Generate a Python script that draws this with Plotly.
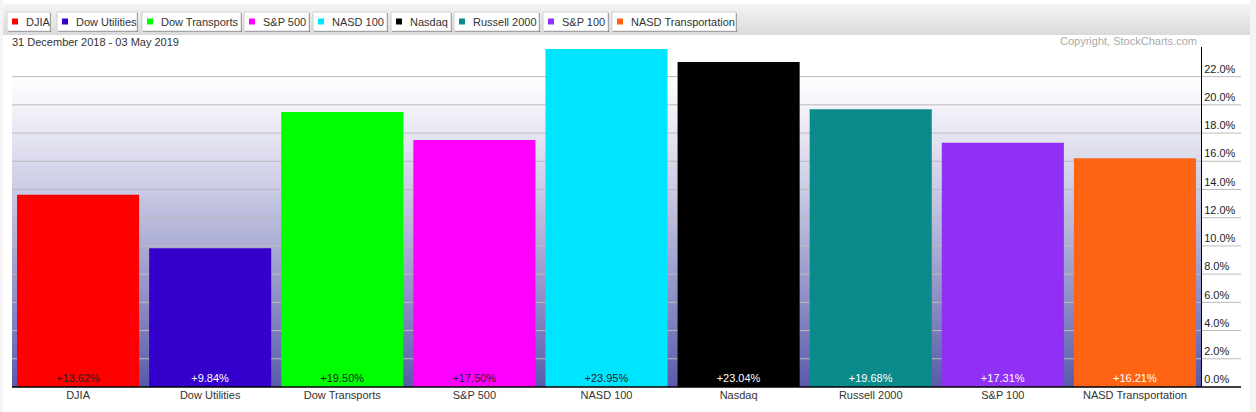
import base64
import struct
import zlib

import plotly.graph_objects as go

# ---------------- data ----------------
categories = ["DJIA", "Dow Utilities", "Dow Transports", "S&P 500", "NASD 100",
              "Nasdaq", "Russell 2000", "S&P 100", "NASD Transportation"]
values = [13.62, 9.84, 19.50, 17.50, 23.95, 23.04, 19.68, 17.31, 16.21]
colors = ["#ff0000", "#3300cc", "#00ff00", "#ff00ff", "#00e5ff",
          "#000000", "#0a8a8a", "#9030f5", "#ff6414"]
text_colors = ["#222222", "#ffffff", "#222222", "#222222", "#222222",
               "#ffffff", "#ffffff", "#ffffff", "#ffffff"]
y_ticks = [0, 2, 4, 6, 8, 10, 12, 14, 16, 18, 20, 22]
date_label = "31 December 2018 - 03 May 2019"
copyright_label = "Copyright, StockCharts.com"

# ---------------- layout constants (pixels) ----------------
W, H = 1256, 412
PL, PR, PT, PB = 12, 1201, 47, 387          # plot area in pixels
FONT = "Liberation Sans, Arial, sans-serif"


def px_x(p):
    return (p - PL) / (PR - PL)


def px_y(p):
    return (PB - p) / (PB - PT)


def gradient_png(rows):
    """Build a 1-pixel-wide vertical gradient PNG as a data URI."""
    raw = b"".join(b"\x00" + bytes(c) for c in rows)

    def chunk(tag, data):
        return (struct.pack(">I", len(data)) + tag + data +
                struct.pack(">I", zlib.crc32(tag + data) & 0xffffffff))

    png = (b"\x89PNG\r\n\x1a\n" +
           chunk(b"IHDR", struct.pack(">IIBBBBB", 1, len(rows), 8, 2, 0, 0, 0)) +
           chunk(b"IDAT", zlib.compress(raw)) + chunk(b"IEND", b""))
    return "data:image/png;base64," + base64.b64encode(png).decode()


# plot background gradient: white at top -> blue/purple at bottom
n = PB - PT
bg_rows = []
for i in range(n):
    f = (i + 0.5) / n
    g = max(0.0, (f - 0.08) / 0.92) ** 1.15
    bg_rows.append((int(round(255 - g * (255 - 88))),
                    int(round(255 - g * (255 - 90))),
                    int(round(255 - g * (255 - 170)))))
# header band gradient
band_top, band_bot = 4, 35
hb = band_bot - band_top
band_rows = []
for i in range(hb):
    c = int(round(244 - (i / (hb - 1)) * (244 - 218)))
    band_rows.append((c, c, c))

labels = [f"{v:+.2f}%" for v in values]

fig = go.Figure()
fig.add_trace(go.Bar(
    x=categories, y=values, marker=dict(color=colors, line=dict(width=0)),
    text=labels, textposition="inside", insidetextanchor="start",
    textangle=0, constraintext="none",
    textfont=dict(family=FONT, size=11, color=text_colors),
    hoverinfo="x+y", showlegend=False,
))

images = [
    dict(source=gradient_png(bg_rows), xref="paper", yref="paper",
         x=0, y=1, sizex=1, sizey=1, xanchor="left", yanchor="top",
         sizing="stretch", layer="below"),
    dict(source=gradient_png(band_rows), xref="paper", yref="paper",
         x=px_x(3), y=px_y(band_top), sizex=px_x(1250) - px_x(3),
         sizey=px_y(band_top) - px_y(band_bot), xanchor="left", yanchor="top",
         sizing="stretch", layer="below"),
]

shapes = []
# outer page decorations
shapes.append(dict(type="rect", xref="paper", yref="paper",
                   x0=px_x(0), x1=px_x(3), y0=px_y(412), y1=px_y(0),
                   fillcolor="#f4f4f4", line=dict(width=0), layer="below"))
shapes.append(dict(type="rect", xref="paper", yref="paper",
                   x0=px_x(1250), x1=px_x(1256), y0=px_y(412), y1=px_y(0),
                   fillcolor="#f4f4f4", line=dict(width=0), layer="below"))

# gridlines extending into the label area
for t in y_ticks[1:]:
    shapes.append(dict(type="line", xref="paper", yref="y",
                       x0=0, x1=px_x(1241), y0=t, y1=t,
                       line=dict(color="#bbbbbb", width=1), layer="below"))
# baseline
shapes.append(dict(type="line", xref="paper", yref="paper",
                   x0=0, x1=px_x(1241), y0=0, y1=0,
                   line=dict(color="#000000", width=1.5), layer="above"))

# legend buttons
legend_left = [7, 57, 142, 244, 313, 391, 454, 543, 612]
legend_right = [50, 137, 241, 309, 387, 451, 539, 608, 736]
annotations = []
for name, col, l, r in zip(categories, colors, legend_left, legend_right):
    shapes.append(dict(type="rect", xref="paper", yref="paper",
                       x0=px_x(l + 1), x1=px_x(r + 1), y0=px_y(32), y1=px_y(13),
                       fillcolor="#777777", line=dict(width=0)))
    shapes.append(dict(type="rect", xref="paper", yref="paper",
                       x0=px_x(l), x1=px_x(r), y0=px_y(31), y1=px_y(12),
                       fillcolor="#ffffff", line=dict(color="#d0d0d0", width=1)))
    shapes.append(dict(type="rect", xref="paper", yref="paper",
                       x0=px_x(l + 5), x1=px_x(l + 11), y0=px_y(24.5), y1=px_y(18.5),
                       fillcolor=col, line=dict(width=0)))
    annotations.append(dict(xref="paper", yref="paper", x=px_x(l + 17), y=px_y(21.5),
                            xanchor="left", yanchor="middle", showarrow=False,
                            text=name, font=dict(family=FONT, size=11, color="#333333")))

annotations.append(dict(xref="paper", yref="paper", x=px_x(10), y=px_y(42),
                        xanchor="left", yanchor="middle", showarrow=False,
                        text=date_label, font=dict(family=FONT, size=11, color="#333333")))
annotations.append(dict(xref="paper", yref="paper", x=px_x(1199), y=px_y(41),
                        xanchor="right", yanchor="middle", showarrow=False,
                        text=copyright_label, font=dict(family=FONT, size=11, color="#aaaaaa")))

fig.update_layout(
    width=W, height=H,
    margin=dict(l=PL, r=W - PR, t=PT, b=H - PB, pad=0),
    paper_bgcolor="#ffffff", plot_bgcolor="rgba(0,0,0,0)",
    bargap=0.076,
    shapes=shapes, annotations=annotations, images=images,
    showlegend=False,
    font=dict(family=FONT, size=11, color="#333333"),
    xaxis=dict(showgrid=False, zeroline=False, showline=False, ticks="",
               tickfont=dict(family=FONT, size=11, color="#333333"),
               range=[-0.5, len(categories) - 0.5], fixedrange=True),
    yaxis=dict(side="right", range=[0, 24.1], tickvals=y_ticks,
               ticktext=[f"{t:.1f}%" for t in y_ticks],
               showgrid=False, zeroline=False, showline=True, linecolor="#000000",
               linewidth=1, ticks="", ticklabelposition="outside top",
               ticklabelstandoff=0,
               tickfont=dict(family=FONT, size=11, color="#222222"), fixedrange=True),
)

fig.write_html("out.html", config={"displayModeBar": False},
               post_script="document.body.style.margin='0';document.body.style.overflow='hidden';")
